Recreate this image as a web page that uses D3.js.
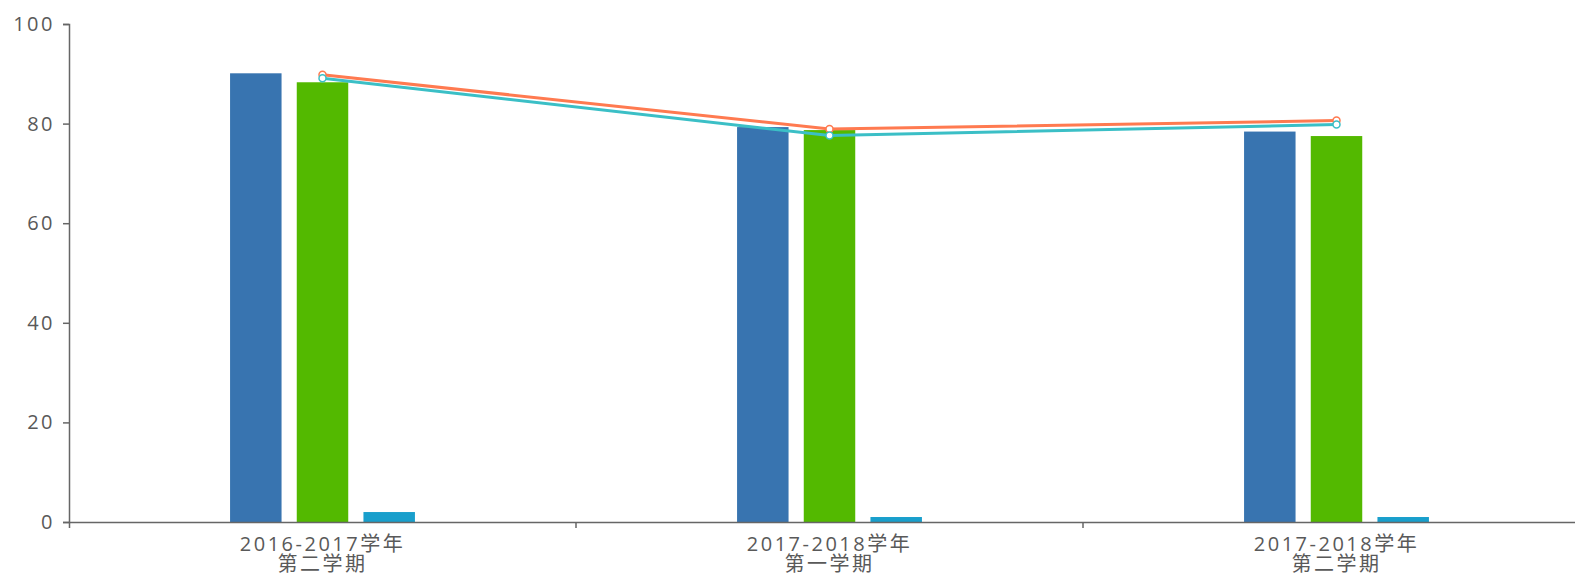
<!DOCTYPE html>
<html>
<head>
<meta charset="utf-8">
<script src="https://cdn.jsdelivr.net/npm/d3@7"></script>
<style>
  html, body { margin: 0; padding: 0; background: #fff; overflow: hidden; }
  svg { display: block; overflow: visible; }
  .axis text { font-family: "Open Sans", "Noto Sans CJK SC", sans-serif; font-size: 20px; fill: #595959; letter-spacing: 2.5px; }
  .axis path, .axis line { stroke: #666; stroke-width: 1.5; }
</style>
</head>
<body>
<svg id="chart" width="1575" height="576"></svg>
<script>
const categories = ["2016-2017学年\n第二学期", "2017-2018学年\n第一学期", "2017-2018学年\n第二学期"];
const barSeriesNames = ["A", "B", "C"];
const barA = [90.1, 79.3, 78.4];
const barB = [88.3, 78.7, 77.5];
const barC = [2.0, 1.0, 1.0];
const lineD = [89.8, 78.9, 80.6];
const lineE = [89.1, 77.6, 79.8];
const yTicks = [0, 20, 40, 60, 80, 100];
const barColors = ["#3874b0", "#53b900", "#199fcc"];
const lineColors = ["#ff7a50", "#3bbfc6"];

const svg = d3.select("#chart");
const mLeft = 69, mRight = 1590, mTop = 24, mBottom = 522;

const x0 = d3.scaleBand().domain(categories).range([mLeft, mRight]).padding(0);
const x1 = d3.scaleBand().domain(barSeriesNames).range([0, x0.bandwidth()]).paddingInner(0.228).paddingOuter(2.415);
const y = d3.scaleLinear().domain([0, 100]).range([mBottom, mTop]);

const barData = [barA, barB, barC];

// bars
barData.forEach((vals, si) => {
  svg.append("g").selectAll("rect").data(vals).join("rect")
    .attr("x", (d, i) => x0(categories[i]) + x1(barSeriesNames[si]))
    .attr("y", d => y(d))
    .attr("width", x1.bandwidth())
    .attr("height", d => y(0) - y(d))
    .attr("fill", barColors[si]);
});

// y axis
svg.append("g").attr("class", "axis").attr("transform", `translate(${mLeft},0)`)
  .call(d3.axisLeft(y).tickValues(yTicks).tickSize(6).tickPadding(8));

// x axis
const xAxis = svg.append("g").attr("class", "axis").attr("transform", `translate(0,${mBottom})`)
  .call(d3.axisBottom(x0).tickSize(0).tickSizeOuter(6).tickFormat(""));
xAxis.selectAll(".bt").data(categories.slice(1)).join("line").attr("class", "bt")
  .attr("x1", d => x0(d)).attr("x2", d => x0(d)).attr("y1", 0).attr("y2", 6);
categories.forEach(c => {
  const parts = c.split("\n");
  const t = xAxis.append("text").attr("text-anchor", "middle")
    .attr("transform", `translate(${x0(c) + x0.bandwidth() / 2},0)`);
  parts.forEach((p, k) => {
    t.append("tspan").attr("x", 0).attr("y", 29 + k * 20).text(p);
  });
});

// lines
const cx = i => x0(categories[i]) + x0.bandwidth() / 2;
[lineD, lineE].forEach((vals, li) => {
  const line = d3.line().x((d, i) => cx(i)).y(d => y(d));
  svg.append("path").datum(vals).attr("d", line)
    .attr("fill", "none").attr("stroke", lineColors[li]).attr("stroke-width", 3);
  svg.append("g").selectAll("circle").data(vals).join("circle")
    .attr("cx", (d, i) => cx(i)).attr("cy", d => y(d)).attr("r", 3.5)
    .attr("fill", "#fff").attr("stroke", lineColors[li]).attr("stroke-width", 1.5);
});
</script>
</body>
</html>
